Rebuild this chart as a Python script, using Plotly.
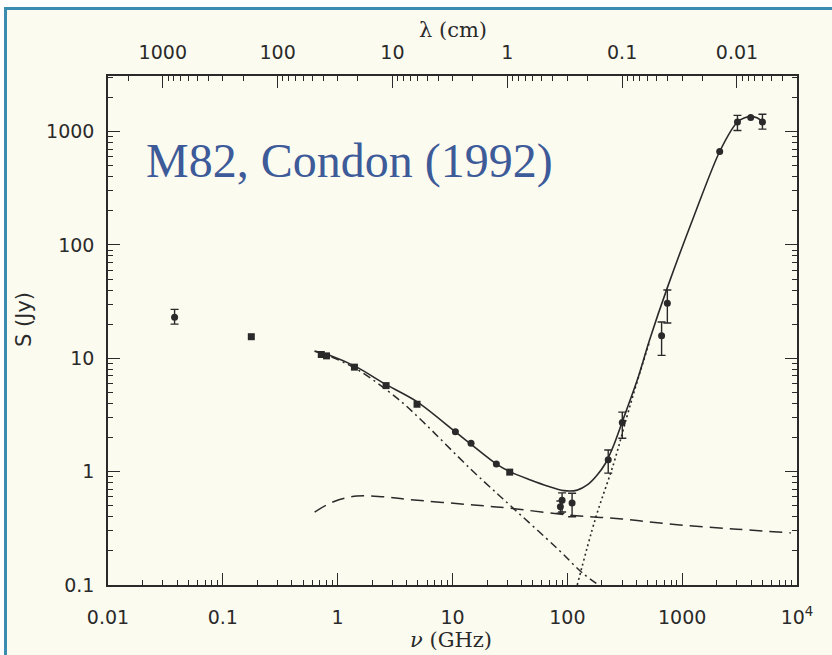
import numpy as np
import plotly.graph_objects as go

# ---------------- data ----------------
# measured points: circles with error bars
err_nu = [0.038, 90, 87, 110, 227, 301, 662, 743, 3030, 5000]
err_S = [23, 0.56, 0.49, 0.53, 1.27, 2.71, 15.8, 30.6, 1213, 1213]
err_up = [4, 0.09, 0.06, 0.115, 0.28, 0.64, 5.1, 9.4, 177, 207]
err_dn = [3, 0.12, 0.06, 0.13, 0.30, 0.74, 5.2, 10.1, 193, 163]

# circles without error bars
circ_nu = [10.6, 14.5, 24.1, 2123, 3955]
circ_S = [2.25, 1.78, 1.17, 667, 1333]

# squares
sq_nu = [0.177, 0.72, 0.80, 1.40, 2.64, 4.91, 31.5]
sq_S = [15.5, 10.8, 10.5, 8.35, 5.74, 3.93, 0.99]

# total model (solid)
tot_nu = [0.63, 0.86, 1.47, 2.51, 4.9, 11, 24, 31.5, 47.8, 66.8, 93, 122, 149, 182,
          215, 254, 301, 407, 520, 743, 1268, 2123, 3030, 3459, 3955, 4529, 4950]
tot_S = [11.6, 10.6, 8.35, 6.03, 4.15, 2.18, 1.17, 1.0, 0.845, 0.748, 0.68, 0.687,
         0.763, 0.935, 1.186, 1.72, 2.76, 6.45, 14.5, 42, 180, 667, 1213, 1316, 1360,
         1316, 1228]

# non-thermal (dash-dot)
nt_nu = [0.63, 0.86, 1.47, 3.29, 5.25, 14.3, 24.5, 32, 81.7, 135, 187]
nt_S = [11.5, 10.35, 8.0, 4.45, 2.9, 1.06, 0.64, 0.50, 0.21, 0.128, 0.1]

# thermal free-free (dashed)
th_nu = [0.63, 0.92, 1.47, 2.5, 4.0, 15.3, 32, 100, 300, 908, 3000, 8830]
th_S = [0.44, 0.543, 0.61, 0.60, 0.57, 0.508, 0.475, 0.415, 0.382, 0.34, 0.311, 0.288]

# dust (dotted)
d_nu = [122, 176, 254, 330, 407, 520]
d_S = [0.1, 0.388, 1.19, 3.05, 6.3, 14]

# axis ticks
nu_ticks = [0.01, 0.1, 1, 10, 100, 1000, 10000]
nu_text = ["0.01", "0.1", "1", "10", "100", "1000", "10<sup>4</sup>"]
lam_ticks = [1000, 100, 10, 1, 0.1, 0.01]
lam_text = ["1000", "100", "10", "1", "0.1", "0.01"]
S_ticks = [0.1, 1, 10, 100, 1000]
S_text = ["0.1", "1", "10", "100", "1000"]

# ---------------- helpers ----------------
def minors(lo_exp, hi_exp):
    out = []
    for e in range(lo_exp, hi_exp + 1):
        for k in range(2, 10):
            out.append(k * 10.0 ** e)
    return out

# plot-area pixel geometry (832x655)
L, R, T, B = 108, 797, 76, 585
W, H = R - L, B - T
def px(x):
    return (x - L) / W
def py(y):
    return (B - y) / H

ink = "#2a2a2a"
cream = "#FCFBF0"
tickfont = dict(family="DejaVu Sans", size=19, color=ink)

fig = go.Figure()

fig.add_trace(go.Scatter(x=th_nu, y=th_S, mode="lines", line=dict(color=ink, width=1.5, dash="13px,7px", shape="spline"),
                         hoverinfo="skip", showlegend=False))
fig.add_trace(go.Scatter(x=nt_nu, y=nt_S, mode="lines", line=dict(color=ink, width=1.5, dash="8px,4px,2px,4px", shape="spline"),
                         hoverinfo="skip", showlegend=False))
fig.add_trace(go.Scatter(x=d_nu, y=d_S, mode="lines", line=dict(color=ink, width=1.6, dash="2px,3px", shape="spline"),
                         hoverinfo="skip", showlegend=False))
fig.add_trace(go.Scatter(x=tot_nu, y=tot_S, mode="lines", line=dict(color=ink, width=1.6, shape="spline", smoothing=0.8),
                         hoverinfo="skip", showlegend=False))
fig.add_trace(go.Scatter(x=err_nu, y=err_S, mode="markers",
                         marker=dict(symbol="circle", size=7, color=ink),
                         error_y=dict(type="data", symmetric=False, array=err_up, arrayminus=err_dn,
                                      color=ink, thickness=1.4, width=4),
                         showlegend=False))
fig.add_trace(go.Scatter(x=circ_nu, y=circ_S, mode="markers",
                         marker=dict(symbol="circle", size=7, color=ink), showlegend=False))
fig.add_trace(go.Scatter(x=sq_nu, y=sq_S, mode="markers",
                         marker=dict(symbol="square", size=7, color=ink), showlegend=False))
# invisible trace to anchor the top wavelength axis
fig.add_trace(go.Scatter(x=lam_ticks, y=[1] * len(lam_ticks), xaxis="x2", mode="markers",
                         marker=dict(opacity=0), hoverinfo="skip", showlegend=False))

fig.update_layout(
    width=832, height=655,
    margin=dict(l=L, r=832 - R, t=T, b=655 - B),
    paper_bgcolor="white",
    plot_bgcolor="rgba(0,0,0,0)",
    xaxis=dict(type="log", range=[-2, 4], showgrid=False, zeroline=False,
               showline=True, linecolor=ink, linewidth=1.5, mirror=False,
               ticks="inside", ticklen=12, tickwidth=1.3, tickcolor=ink,
               tickmode="array", tickvals=nu_ticks, ticktext=nu_text,
               tickfont=tickfont, ticklabelstandoff=14,
               minor=dict(tickmode="array", tickvals=minors(-2, 3), ticks="inside",
                          ticklen=5, tickwidth=1.2, tickcolor=ink, showgrid=False)),
    xaxis2=dict(type="log", overlaying="x", side="top", anchor="y",
                range=[np.log10(3000), np.log10(0.003)], showgrid=False, zeroline=False,
                showline=True, linecolor=ink, linewidth=1.5,
                ticks="inside", ticklen=12, tickwidth=1.3, tickcolor=ink,
                tickmode="array", tickvals=lam_ticks, ticktext=lam_text,
                tickfont=tickfont, ticklabelstandoff=8,
                minor=dict(tickmode="array", tickvals=minors(-3, 3), ticks="inside",
                           ticklen=5, tickwidth=1.2, tickcolor=ink, showgrid=False)),
    yaxis=dict(type="log", range=[-1, 3.49], showgrid=False, zeroline=False,
               showline=True, linecolor=ink, linewidth=1.5, mirror="ticks",
               ticks="inside", ticklen=12, tickwidth=1.3, tickcolor=ink,
               tickmode="array", tickvals=S_ticks, ticktext=S_text,
               tickfont=tickfont, ticklabelstandoff=8,
               minor=dict(tickmode="array", tickvals=minors(-1, 3), ticks="inside",
                          ticklen=5, tickwidth=1.2, tickcolor=ink, showgrid=False)),
    shapes=[dict(type="rect", xref="paper", yref="paper", layer="below",
                 x0=px(5.5), x1=px(900), y0=py(700), y1=py(8.5),
                 line=dict(color="#3A8DB0", width=3), fillcolor=cream)],
    annotations=[
        dict(text="M82, Condon (1992)", xref="paper", yref="paper", x=px(144), y=py(161),
             xanchor="left", yanchor="middle", showarrow=False,
             font=dict(family="Liberation Serif", size=48, color="#3d5a99")),
        dict(text="λ (cm)", xref="paper", yref="paper", x=px(453), y=py(30),
             xanchor="center", yanchor="middle", showarrow=False,
             font=dict(family="DejaVu Serif", size=21, color=ink)),
        dict(text="<i>ν</i> (GHz)", xref="paper", yref="paper", x=px(451), y=py(640),
             xanchor="center", yanchor="middle", showarrow=False,
             font=dict(family="DejaVu Serif", size=21, color=ink)),
        dict(text="S (Jy)", xref="paper", yref="paper", x=px(24), y=py(320),
             xanchor="center", yanchor="middle", showarrow=False, textangle=-90,
             font=dict(family="DejaVu Sans", size=21, color=ink)),
    ],
)

fig.write_html("out.html")
